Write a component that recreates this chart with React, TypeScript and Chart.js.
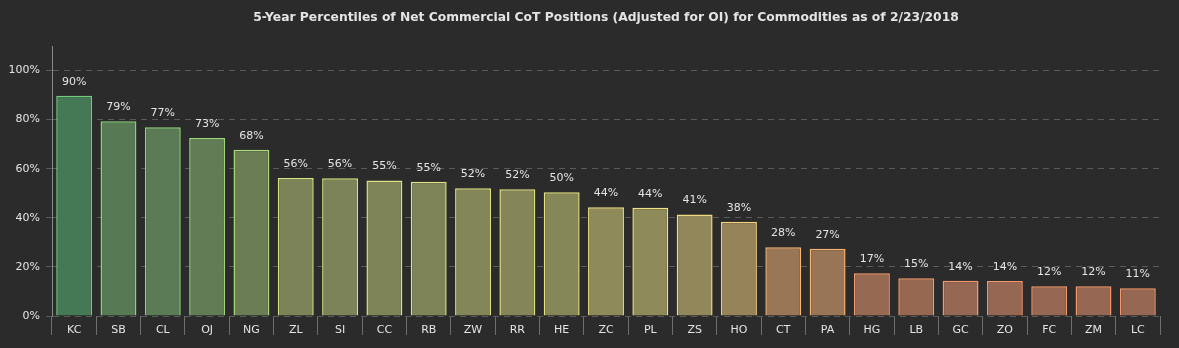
import React, { useEffect, useRef } from "react";
import { Chart, registerables } from "chart.js";

Chart.register(...registerables);

const TITLE = "5-Year Percentiles of Net Commercial CoT Positions (Adjusted for OI) for Commodities as of 2/23/2018";
const categories = ["KC", "SB", "CL", "OJ", "NG", "ZL", "SI", "CC", "RB", "ZW", "RR", "HE", "ZC", "PL", "ZS", "HO", "CT", "PA", "HG", "LB", "GC", "ZO", "FC", "ZM", "LC"];
const percentiles = [89.7, 79.3, 76.9, 72.5, 67.7, 56.2, 56.1, 55.2, 54.7, 52.0, 51.6, 50.4, 44.3, 44.1, 41.4, 38.4, 28.0, 27.4, 17.4, 15.4, 14.4, 14.3, 12.1, 12.1, 11.3];
const yTicks = [0, 20, 40, 60, 80, 100];

// colour stops: [value, border rgb, fill rgb]
const stops: [number, number[], number[]][] = [
  [0, [245, 145, 105], [150, 100, 82]],
  [17, [245, 155, 108], [150, 104, 82]],
  [28, [245, 180, 112], [152, 118, 86]],
  [38, [245, 208, 122], [150, 130, 90]],
  [44, [240, 225, 130], [143, 138, 90]],
  [55, [220, 228, 130], [127, 132, 88]],
  [68, [170, 215, 120], [105, 125, 85]],
  [90, [110, 205, 125], [69, 120, 85]],
  [100, [100, 200, 125], [62, 116, 85]],
];

function colorFor(v: number, idx: 1 | 2): string {
  for (let i = 0; i < stops.length - 1; i++) {
    const a = stops[i], b = stops[i + 1];
    if (v >= a[0] && v <= b[0]) {
      const t = (v - a[0]) / (b[0] - a[0]);
      const c = (a[idx] as number[]).map((x, k) => Math.round(x + ((b[idx] as number[])[k] - x) * t));
      return `rgb(${c[0]},${c[1]},${c[2]})`;
    }
  }
  const c = stops[stops.length - 1][idx] as number[];
  return `rgb(${c[0]},${c[1]},${c[2]})`;
}

const BG = "#2b2b2b";
const TEXT = "#e4e4e4";
const FONT = "'DejaVu Sans', Verdana, sans-serif";

const bgPlugin = {
  id: "bgFill",
  beforeDraw(chart: any) {
    const ctx = chart.ctx;
    ctx.save();
    ctx.fillStyle = BG;
    ctx.fillRect(0, 0, chart.width, chart.height);
    ctx.restore();
  },
};

const titlePlugin = {
  id: "centerTitle",
  afterDraw(chart: any) {
    const ctx = chart.ctx;
    const a = chart.chartArea;
    ctx.save();
    ctx.fillStyle = TEXT;
    ctx.font = `bold 12.3px ${FONT}`;
    ctx.textAlign = "center";
    ctx.textBaseline = "middle";
    ctx.fillText(TITLE, (a.left + a.right) / 2, 18);
    ctx.restore();
  },
};

const labelPlugin = {
  id: "barLabels",
  afterDatasetsDraw(chart: any) {
    const ctx = chart.ctx;
    const meta = chart.getDatasetMeta(0);
    ctx.save();
    ctx.fillStyle = TEXT;
    ctx.font = `11px ${FONT}`;
    ctx.textAlign = "center";
    ctx.textBaseline = "middle";
    meta.data.forEach((bar: any, i: number) => {
      ctx.fillText(Math.round(percentiles[i]) + "%", bar.x, bar.y - 14);
    });
    ctx.restore();
  },
};

export default function App() {
  const ref = useRef<HTMLCanvasElement | null>(null);
  useEffect(() => {
    document.body.style.margin = "0";
    document.body.style.background = BG;
    const chart = new Chart(ref.current as HTMLCanvasElement, {
      type: "bar",
      data: {
        labels: categories,
        datasets: [
          {
            data: percentiles,
            backgroundColor: percentiles.map((v) => colorFor(v, 2)),
            borderColor: percentiles.map((v) => colorFor(v, 1)),
            borderWidth: 1.5,
            barPercentage: 0.9,
            categoryPercentage: 0.9,
          },
        ],
      },
      plugins: [bgPlugin, titlePlugin, labelPlugin],
      options: {
        responsive: false,
        animation: false,
        layout: { padding: { top: 46, right: 19, left: 0, bottom: 0 } },
        plugins: {
          legend: { display: false },
          title: { display: false },
          tooltip: { enabled: false },
        },
        scales: {
          x: {
            offset: true,
            grid: {
              offset: true,
              drawOnChartArea: false,
              drawTicks: true,
              tickLength: 19,
              color: "#6e6e6e",
            },
            border: { display: false },
            ticks: {
              color: TEXT,
              font: { family: FONT, size: 11 },
              padding: -11,
              maxRotation: 0,
              autoSkip: false,
            },
            afterFit(scale: any) {
              scale.height = 32;
            },
          },
          y: {
            min: 0,
            max: 110,
            afterBuildTicks(scale: any) {
              scale.ticks = yTicks.map((v) => ({ value: v }));
            },
            grid: {
              color: "#5a5a5a",
              tickLength: 6,
              drawTicks: true,
              tickBorderDash: [6, 5],
            },
            border: { display: true, color: "#8a8a8a", width: 1, dash: [6, 5] },
            ticks: {
              color: TEXT,
              font: { family: FONT, size: 11 },
              padding: 6,
              callback: (v: any) => v + "%",
            },
            afterFit(scale: any) {
              scale.width = 52;
            },
          },
        },
      } as any,
    });
    return () => chart.destroy();
  }, []);
  return (
    <div style={{ width: 1179, height: 348, background: BG }}>
      <canvas ref={ref} width={1179} height={348} style={{ display: "block" }} />
    </div>
  );
}
